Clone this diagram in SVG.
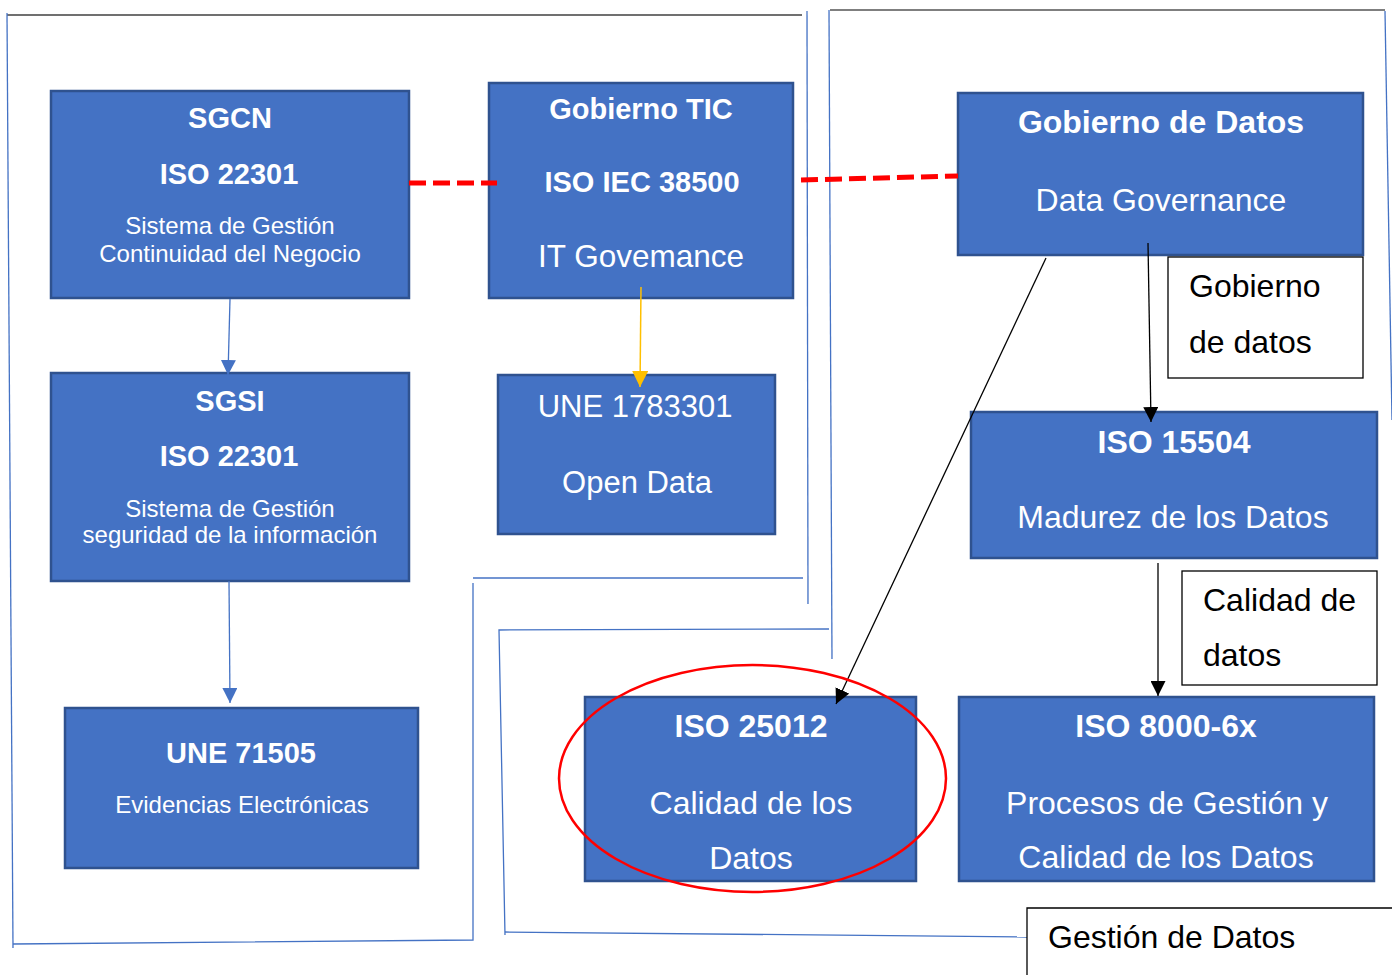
<svg xmlns="http://www.w3.org/2000/svg" width="1392" height="975" viewBox="0 0 1392 975">
  <style>
    .box { fill: #4472C4; stroke: #2F528F; stroke-width: 2.5; }
    .tag { fill: #FFFFFF; stroke: #000000; stroke-width: 1.3; }
    .frame { fill: none; stroke: #4472C4; stroke-width: 1.3; }
    .hb { font-family: "Liberation Sans", Arial, sans-serif; font-weight: bold; fill: #FFFFFF; text-anchor: middle; }
    .hr { font-family: "Liberation Sans", Arial, sans-serif; fill: #FFFFFF; text-anchor: middle; }
    .lb { font-family: "Liberation Sans", Arial, sans-serif; fill: #000000; font-size: 32px; }
    .dash { fill: none; stroke: #FF0000; stroke-width: 5; stroke-dasharray: 17 7; }
  </style>
  <defs>
    <marker id="arrBlue" viewBox="0 0 10 10" refX="10" refY="5" markerWidth="15" markerHeight="15" markerUnits="userSpaceOnUse" orient="auto">
      <path d="M0,0 L10,5 L0,10 Z" fill="#4472C4"/>
    </marker>
    <marker id="arrGold" viewBox="0 0 10 10" refX="10" refY="5" markerWidth="16" markerHeight="16" markerUnits="userSpaceOnUse" orient="auto">
      <path d="M0,0 L10,5 L0,10 Z" fill="#FFC000"/>
    </marker>
    <marker id="arrBlack" viewBox="0 0 10 10" refX="10" refY="5" markerWidth="15" markerHeight="15" markerUnits="userSpaceOnUse" orient="auto">
      <path d="M0,0 L10,5 L0,10 Z" fill="#000000"/>
    </marker>
  </defs>

  <rect width="1392" height="975" fill="#FFFFFF"/>

  <!-- grouping frames -->
  <g id="frames">
    <line x1="7" y1="15" x2="802" y2="15" stroke="#404040" stroke-width="1.5"/>
    <line class="frame" x1="7" y1="13" x2="13" y2="948"/>
    <polyline class="frame" points="13,944 473,940 473,583"/>
    <line class="frame" x1="473" y1="578" x2="803" y2="578"/>
    <line class="frame" x1="807" y1="11" x2="808" y2="604"/>
    <line class="frame" x1="829" y1="10" x2="832" y2="659"/>
    <line x1="830" y1="10" x2="1385" y2="10" stroke="#000000" stroke-width="1.2"/>
    <line class="frame" x1="1385" y1="11" x2="1392" y2="420"/>
    <polyline class="frame" points="829,629 499,630 505,935"/>
    <line class="frame" x1="505" y1="932" x2="1027" y2="937"/>
  </g>

  <g id="sgcn">
    <rect class="box" x="51" y="91" width="358" height="207"/>
    <text class="hb" x="230" y="128" font-size="29">SGCN</text>
    <text class="hb" x="229" y="184" font-size="29">ISO 22301</text>
    <text class="hr" x="230" y="234" font-size="24">Sistema de Gestión</text>
    <text class="hr" x="230" y="262" font-size="24">Continuidad del Negocio</text>
  </g>

  <g id="gobierno-tic">
    <rect class="box" x="489" y="83" width="304" height="215"/>
    <text class="hb" x="641" y="119" font-size="29">Gobierno TIC</text>
    <text class="hb" x="642" y="192" font-size="29">ISO IEC 38500</text>
    <text class="hr" x="641" y="267" font-size="31.5">IT Govemance</text>
  </g>

  <g id="sgsi">
    <rect class="box" x="51" y="373" width="358" height="208"/>
    <text class="hb" x="230" y="411" font-size="29">SGSI</text>
    <text class="hb" x="229" y="466" font-size="29">ISO 22301</text>
    <text class="hr" x="230" y="517" font-size="24">Sistema de Gestión</text>
    <text class="hr" x="230" y="543" font-size="24">seguridad de la información</text>
  </g>

  <g id="une-1783301">
    <rect class="box" x="498" y="375" width="277" height="159"/>
    <text class="hr" x="635" y="417" font-size="31">UNE 1783301</text>
    <text class="hr" x="637" y="493" font-size="31">Open Data</text>
  </g>

  <g id="une-71505">
    <rect class="box" x="65" y="708" width="353" height="160"/>
    <text class="hb" x="241" y="763" font-size="29">UNE 71505</text>
    <text class="hr" x="242" y="813" font-size="24">Evidencias Electrónicas</text>
  </g>

  <g id="gobierno-datos">
    <rect class="box" x="958" y="93" width="405" height="162"/>
    <text class="hb" x="1161" y="133" font-size="32">Gobierno de Datos</text>
    <text class="hr" x="1161" y="211" font-size="32">Data Governance</text>
  </g>

  <g id="tag-gobierno">
    <rect class="tag" x="1168" y="257" width="195" height="121"/>
    <text class="lb" x="1189" y="297">Gobierno</text>
    <text class="lb" x="1189" y="353">de datos</text>
  </g>

  <g id="iso-15504">
    <rect class="box" x="971" y="412" width="406" height="146"/>
    <text class="hb" x="1174" y="453" font-size="32">ISO 15504</text>
    <text class="hr" x="1173" y="528" font-size="32">Madurez de los Datos</text>
  </g>

  <g id="tag-calidad">
    <rect class="tag" x="1182" y="571" width="195" height="114"/>
    <text class="lb" x="1203" y="611">Calidad de</text>
    <text class="lb" x="1203" y="666">datos</text>
  </g>

  <g id="iso-8000">
    <rect class="box" x="959" y="697" width="415" height="184"/>
    <text class="hb" x="1166" y="737" font-size="32">ISO 8000-6x</text>
    <text class="hr" x="1167" y="814" font-size="32">Procesos de Gestión y</text>
    <text class="hr" x="1166" y="868" font-size="32">Calidad de los Datos</text>
  </g>

  <g id="iso-25012">
    <rect class="box" x="585" y="697" width="331" height="184"/>
    <text class="hb" x="751" y="737" font-size="32">ISO 25012</text>
    <text class="hr" x="751" y="814" font-size="32">Calidad de los</text>
    <text class="hr" x="751" y="869" font-size="32">Datos</text>
  </g>

  <g id="tag-gestion">
    <polyline points="1027,975 1027,908 1392,908" fill="none" stroke="#000000" stroke-width="1.3"/>
    <text class="lb" x="1048" y="948">Gestión de Datos</text>
  </g>

  <!-- connectors, drawn over the boxes so the heads stay visible -->
  <g id="connectors">
    <line x1="230" y1="299" x2="228" y2="375" stroke="#4472C4" stroke-width="1.3" marker-end="url(#arrBlue)"/>
    <line x1="229" y1="581" x2="230" y2="703" stroke="#4472C4" stroke-width="1.3" marker-end="url(#arrBlue)"/>
    <line x1="641" y1="287" x2="640" y2="387" stroke="#FFC000" stroke-width="1.5" marker-end="url(#arrGold)"/>
    <line class="dash" x1="409" y1="183" x2="497" y2="183"/>
    <line class="dash" x1="801" y1="180" x2="958" y2="176"/>
    <line x1="1148" y1="243" x2="1151" y2="422" stroke="#000000" stroke-width="1.3" marker-end="url(#arrBlack)"/>
    <line x1="1158" y1="563" x2="1158" y2="696" stroke="#000000" stroke-width="1.3" marker-end="url(#arrBlack)"/>
    <line x1="1046" y1="258" x2="836" y2="704" stroke="#000000" stroke-width="1.3" marker-end="url(#arrBlack)"/>
  </g>

  <!-- highlight ring round ISO 25012 -->
  <ellipse id="highlight" cx="752.5" cy="778.5" rx="193.5" ry="113.5" fill="none" stroke="#FF0000" stroke-width="2.5"/>
</svg>
